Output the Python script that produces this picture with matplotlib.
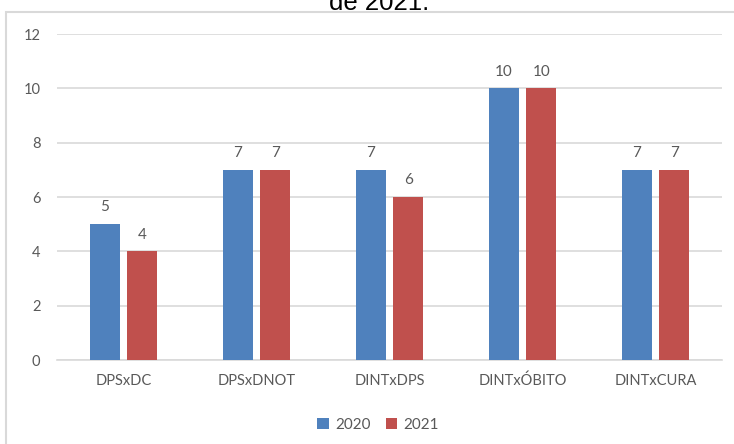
import matplotlib.pyplot as plt
import matplotlib.patches as mpatches
import numpy as np

# Dados do gráfico
categorias = ['DPSxDC', 'DPSxDNOT', 'DINTxDPS', 'DINTxÓBITO', 'DINTxCURA']
valores_2020 = [5, 7, 7, 10, 7]
valores_2021 = [4, 7, 6, 10, 7]
anos = ['2020', '2021']
cores = ['#4F81BD', '#C0504D']
cinza = '#595959'

W, H = 734, 444
fig = plt.figure(figsize=(W / 100, H / 100), dpi=100)
ax = fig.add_axes([57 / W, 1 - 360 / H, 665 / W, 326 / H])

x = np.arange(len(categorias))
largura = 0.226
desloc = 0.141

for serie, dx, cor, nome in [(valores_2020, -desloc, cores[0], anos[0]),
                             (valores_2021, desloc, cores[1], anos[1])]:
    barras = ax.bar(x + dx, serie, largura, color=cor, label=nome, zorder=3)
    for b, v in zip(barras, serie):
        ax.annotate(str(v), (b.get_x() + b.get_width() / 2, v),
                    xytext=(0, 7), textcoords='offset points',
                    ha='center', va='bottom', fontsize=11, color=cinza,
                    family='Lato')

ax.set_xlim(-0.5, len(categorias) - 0.5)
ax.set_ylim(0, 12)
ax.set_yticks(range(0, 13, 2))
ax.yaxis.grid(True, color='#D9D9D9', linewidth=1.2, zorder=0)
ax.set_xticks(x)
ax.set_xticklabels(categorias)
for s in ['top', 'right', 'left']:
    ax.spines[s].set_visible(False)
ax.spines['bottom'].set_color('#D9D9D9')
ax.spines['bottom'].set_linewidth(1.2)
ax.tick_params(length=0, colors=cinza, labelsize=10.5, pad=12)
ax.tick_params(axis='x', pad=10)
for t in ax.get_xticklabels() + ax.get_yticklabels():
    t.set_family('Lato')

ax.legend(loc='center', bbox_to_anchor=(378 / W, 1 - 425 / H),
          bbox_transform=fig.transFigure, ncol=2, frameon=False,
          handlelength=0.75, handleheight=0.75, handletextpad=0.4,
          columnspacing=1.0, prop={'family': 'Lato', 'size': 11},
          labelcolor=cinza)

# moldura do gráfico
fig.patches.append(mpatches.Rectangle((6 / W, -0.1), 1.2, 1 - 12 / H + 0.1,
                                      transform=fig.transFigure, fill=False,
                                      edgecolor='#D9D9D9', linewidth=1.5))
# título cortado no topo, como na imagem original
fig.text(379 / W, 1 - 10 / H, 'de 2021.', ha='center', va='baseline',
         fontsize=18.5, family='Liberation Sans', color='black')

fig.savefig('out.png', dpi=100)
